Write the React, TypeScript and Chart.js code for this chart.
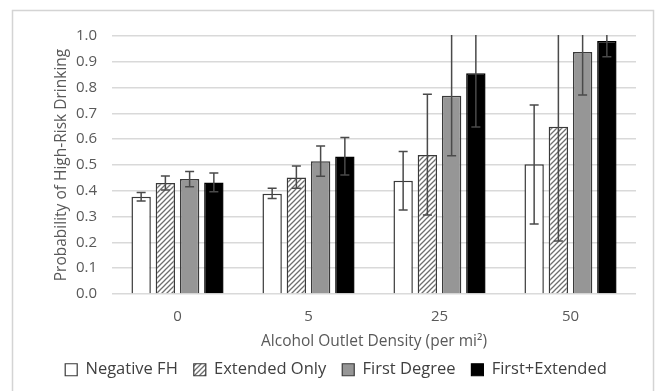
import React, { useEffect, useRef } from "react";
import { Chart, registerables } from "chart.js";

Chart.register(...registerables);

const categories = ["0", "5", "25", "50"];
const seriesNames = ["Negative FH", "Extended Only", "First Degree", "First+Extended"];
const negativeFH = [0.377, 0.389, 0.439, 0.503];
const negativeFHLow = [0.36, 0.37, 0.326, 0.271];
const negativeFHHigh = [0.393, 0.41, 0.552, 0.733];
const extendedOnly = [0.43, 0.452, 0.539, 0.648];
const extendedOnlyLow = [0.403, 0.41, 0.306, 0.205];
const extendedOnlyHigh = [0.457, 0.496, 0.774, 1.05];
const firstDegree = [0.446, 0.515, 0.768, 0.938];
const firstDegreeLow = [0.416, 0.456, 0.536, 0.771];
const firstDegreeHigh = [0.475, 0.574, 1.05, 1.05];
const firstExtended = [0.432, 0.533, 0.856, 0.981];
const firstExtendedLow = [0.396, 0.461, 0.647, 0.92];
const firstExtendedHigh = [0.469, 0.607, 1.05, 1.05];
const yTicks = [0, 0.1, 0.2, 0.3, 0.4, 0.5, 0.6, 0.7, 0.8, 0.9, 1.0];

function makeHatch(): CanvasPattern | string {
  const c = document.createElement("canvas");
  c.width = 5;
  c.height = 5;
  const g = c.getContext("2d");
  if (!g) return "#ffffff";
  g.fillStyle = "#ffffff";
  g.fillRect(0, 0, 5, 5);
  g.strokeStyle = "#6e6e6e";
  g.lineWidth = 1.3;
  g.beginPath();
  g.moveTo(-1, 6);
  g.lineTo(6, -1);
  g.moveTo(-1, 1);
  g.lineTo(1, -1);
  g.moveTo(4, 6);
  g.lineTo(6, 4);
  g.stroke();
  return g.createPattern(c, "repeat") || "#ffffff";
}

export default function App() {
  const ref = useRef<HTMLCanvasElement>(null);
  useEffect(() => {
    if (!ref.current) return;
    const hatch = makeHatch();
    const lows = [negativeFHLow, extendedOnlyLow, firstDegreeLow, firstExtendedLow];
    const highs = [negativeFHHigh, extendedOnlyHigh, firstDegreeHigh, firstExtendedHigh];
    const fills: any[] = ["#ffffff", hatch, "#969696", "#000000"];
    const borders = ["#3a3a3a", "#3a3a3a", "#3a3a3a", "#000000"];
    const values = [negativeFH, extendedOnly, firstDegree, firstExtended];

    const frame = {
      id: "frame",
      beforeDraw(chart: any) {
        const ctx = chart.ctx;
        ctx.save();
        ctx.fillStyle = "#ffffff";
        ctx.fillRect(0, 0, chart.width, chart.height);
        ctx.strokeStyle = "#d4d4d4";
        ctx.lineWidth = 1.5;
        ctx.strokeRect(12.5, 10.5, 641, 420);
        ctx.restore();
      },
    };

    const errorBars = {
      id: "errorBars",
      afterDatasetsDraw(chart: any) {
        const ctx = chart.ctx;
        const y = chart.scales.y;
        const area = chart.chartArea;
        ctx.save();
        ctx.beginPath();
        ctx.rect(area.left, area.top - 1, area.right - area.left, area.bottom - area.top + 2);
        ctx.clip();
        ctx.strokeStyle = "#4a4a4a";
        ctx.lineWidth = 1.5;
        chart.data.datasets.forEach((_ds: any, i: number) => {
          const meta = chart.getDatasetMeta(i);
          meta.data.forEach((el: any, j: number) => {
            const lo = lows[i][j];
            const hi = highs[i][j];
            const x = el.x;
            const yl = y.getPixelForValue(lo);
            const yh = y.getPixelForValue(hi);
            ctx.beginPath();
            ctx.moveTo(x, yl);
            ctx.lineTo(x, yh);
            ctx.moveTo(x - 4.5, yl);
            ctx.lineTo(x + 4.5, yl);
            if (hi <= 1) {
              ctx.moveTo(x - 4.5, yh);
              ctx.lineTo(x + 4.5, yh);
            }
            ctx.stroke();
          });
        });
        ctx.restore();
      },
    };

    const chart = new Chart(ref.current, {
      type: "bar",
      data: {
        labels: categories,
        datasets: seriesNames.map((name, i) => ({
          label: name,
          data: values[i],
          backgroundColor: fills[i],
          borderColor: borders[i],
          borderWidth: 1.5,
          categoryPercentage: 0.74,
          barPercentage: 0.8,
        })),
      },
      options: {
        animation: false,
        responsive: false,
        maintainAspectRatio: false,
        layout: { padding: { left: 36, right: 19, top: 36, bottom: 3 } },
        plugins: {
          tooltip: { enabled: false },
          legend: {
            position: "bottom",
            labels: {
              font: { family: "Open Sans", size: 16.5 },
              color: "#404040",
              boxWidth: 12,
              boxHeight: 12,
              padding: 16,
              generateLabels: (ch: any) =>
                ch.data.datasets.map((ds: any, i: number) => ({
                  text: ds.label,
                  fillStyle: fills[i],
                  strokeStyle: borders[i],
                  lineWidth: 1.2,
                  fontColor: "#404040",
                  hidden: false,
                  datasetIndex: i,
                })),
            },
          },
        },
        scales: {
          x: {
            grid: { display: false },
            border: { display: false },
            ticks: { font: { family: "Open Sans", size: 15 }, color: "#595959", padding: 6 },
            title: {
              display: true,
              text: "Alcohol Outlet Density (per mi²)",
              font: { family: "Open Sans", size: 15.5 },
              color: "#595959",
              padding: { top: 0, bottom: -5.5 },
            },
            afterFit: (s: any) => {
              s.height = 51.5;
            },
          },
          y: {
            min: 0,
            max: 1,
            afterBuildTicks: (s: any) => {
              s.ticks = yTicks.map((v) => ({ value: v }));
            },
            grid: { color: "#d9d9d9", lineWidth: 1.5, drawTicks: false },
            border: { display: false },
            ticks: {
              font: { family: "Open Sans", size: 15 },
              color: "#595959",
              padding: 15,
              callback: (v: any) => Number(v).toFixed(1),
            },
            title: {
              display: true,
              text: "Probability of High-Risk Drinking",
              font: { family: "Open Sans", size: 15.5 },
              color: "#595959",
              padding: { top: 16.7, bottom: 0 },
            },
            afterFit: (s: any) => {
              s.width = 76;
            },
          },
        },
      },
      plugins: [frame, errorBars],
    });
    return () => chart.destroy();
  }, []);
  return (
    <div style={{ position: "absolute", left: 0, top: 0, width: 655, height: 391 }}>
      <canvas ref={ref} width={655} height={391} style={{ display: "block" }} />
    </div>
  );
}
